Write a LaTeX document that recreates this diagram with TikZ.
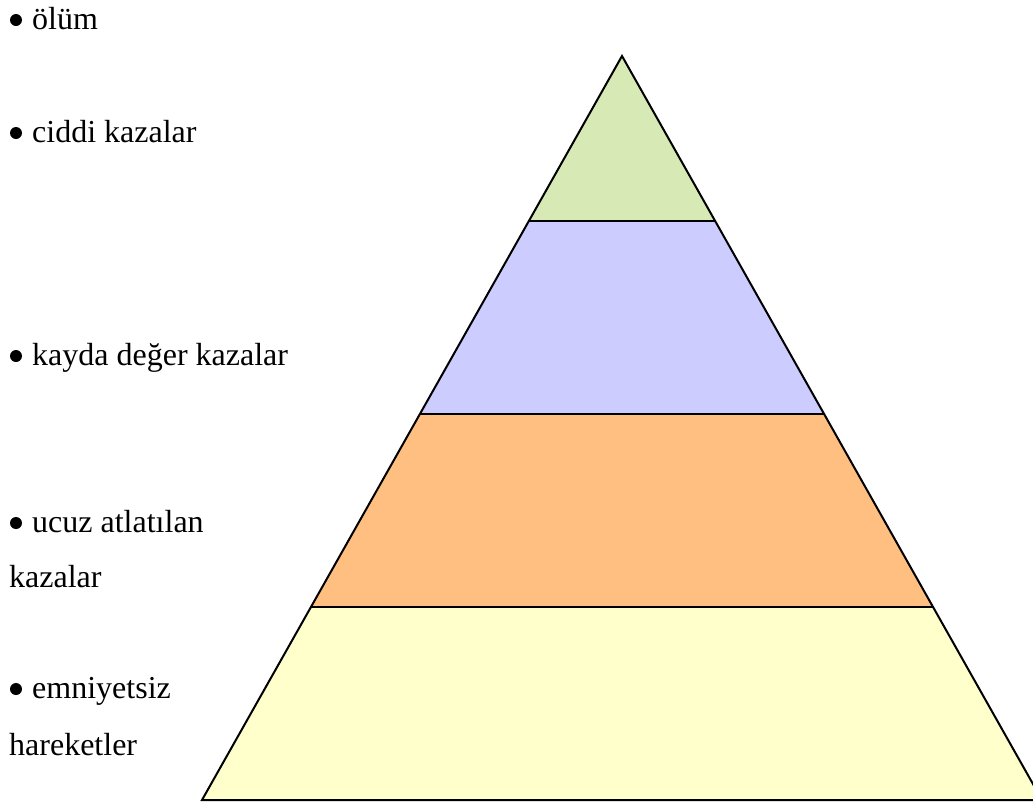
\documentclass[tikz,border=0pt]{standalone}
\usepackage{fontspec}
\setmainfont{Liberation Serif}
\definecolor{lvgreen}{RGB}{215,233,180}
\definecolor{lvblue}{RGB}{204,204,255}
\definecolor{lvorange}{RGB}{255,191,128}
\definecolor{lvyellow}{RGB}{255,255,204}
\begin{document}
\begin{tikzpicture}[x=1pt,y=-1pt,
  lbl/.style={anchor=base west,inner sep=0pt,font=\fontsize{32}{38}\selectfont},
  dot/.style={circle,fill=black,inner sep=0pt,minimum size=12pt},
  tier/.style={draw=black,line width=2pt,line join=miter}]
\useasboundingbox (0,0) rectangle (1033,801);
\clip (0,0) rectangle (1033,801);
% pyramid corners
\coordinate (apex) at (622,56);
\coordinate (l1) at (528.9,221); \coordinate (r1) at (715.1,221);
\coordinate (l2) at (419.9,414); \coordinate (r2) at (824.1,414);
\coordinate (l3) at (311.0,607); \coordinate (r3) at (933.0,607);
\coordinate (l4) at (202,800);  \coordinate (r4) at (1042,800);
\fill[lvyellow] (l3) -- (r3) -- (r4) -- (l4) -- cycle;
\fill[lvorange] (l2) -- (r2) -- (r3) -- (l3) -- cycle;
\fill[lvblue] (l1) -- (r1) -- (r2) -- (l2) -- cycle;
\fill[lvgreen] (apex) -- (r1) -- (l1) -- cycle;
\draw[tier] (apex) -- (r4) -- (l4) -- cycle;
\draw[tier] (l1) -- (r1);
\draw[tier] (l2) -- (r2);
\draw[tier] (l3) -- (r3);
% bullets
\node[dot] (b1) at (16,20) {};
\node[dot] (b2) at (16,133) {};
\node[dot] (b3) at (16,356) {};
\node[dot] (b4) at (16,523) {};
\node[dot] (b5) at (16,689) {};
% labels
\node[lbl] (t1) at (32,29) {ölüm};
\node[lbl] (t2) at (32,142) {ciddi kazalar};
\node[lbl] (t3) at (32,365) {kayda değer kazalar};
\node[lbl] (t4a) at (32,532) {ucuz atlatılan};
\node[lbl] (t4b) at (9,587) {kazalar};
\node[lbl] (t5a) at (32,698) {emniyetsiz};
\node[lbl] (t5b) at (9,755) {hareketler};
\end{tikzpicture}
\end{document}
